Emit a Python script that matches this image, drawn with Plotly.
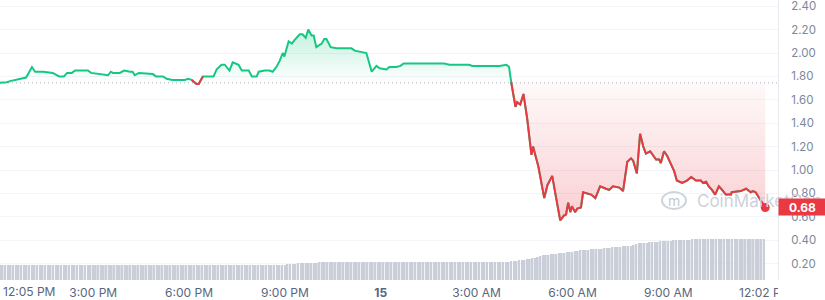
import numpy as np
import pandas as pd
import plotly.graph_objects as go

# ---- price data ----
times = [
    "2024-03-14 12:05", "2024-03-14 12:18", "2024-03-14 12:24", "2024-03-14 12:33", "2024-03-14 12:46",
    "2024-03-14 12:54", "2024-03-14 13:05", "2024-03-14 13:11", "2024-03-14 13:26", "2024-03-14 13:44",
    "2024-03-14 13:56", "2024-03-14 14:05", "2024-03-14 14:11", "2024-03-14 14:20", "2024-03-14 14:26",
    "2024-03-14 14:50", "2024-03-14 14:56", "2024-03-14 15:13", "2024-03-14 15:28", "2024-03-14 15:33",
    "2024-03-14 15:37", "2024-03-14 15:50", "2024-03-14 15:58", "2024-03-14 16:09", "2024-03-14 16:14",
    "2024-03-14 16:18", "2024-03-14 16:26", "2024-03-14 16:52", "2024-03-14 16:58", "2024-03-14 17:11",
    "2024-03-14 17:18", "2024-03-14 17:29", "2024-03-14 17:52", "2024-03-14 17:58", "2024-03-14 18:05",
    "2024-03-14 18:14", "2024-03-14 18:18", "2024-03-14 18:26", "2024-03-14 18:39", "2024-03-14 18:46",
    "2024-03-14 18:52", "2024-03-14 19:01", "2024-03-14 19:07", "2024-03-14 19:16", "2024-03-14 19:22",
    "2024-03-14 19:33", "2024-03-14 19:39", "2024-03-14 19:52", "2024-03-14 19:58", "2024-03-14 20:07",
    "2024-03-14 20:11", "2024-03-14 20:22", "2024-03-14 20:31", "2024-03-14 20:37", "2024-03-14 20:44",
    "2024-03-14 20:50", "2024-03-14 20:56", "2024-03-14 20:59", "2024-03-14 21:07", "2024-03-14 21:13",
    "2024-03-14 21:18", "2024-03-14 21:28", "2024-03-14 21:33", "2024-03-14 21:39", "2024-03-14 21:44",
    "2024-03-14 21:50", "2024-03-14 21:54", "2024-03-14 21:59", "2024-03-14 22:09", "2024-03-14 22:14",
    "2024-03-14 22:18", "2024-03-14 22:26", "2024-03-14 22:37", "2024-03-14 23:05", "2024-03-14 23:11",
    "2024-03-14 23:20", "2024-03-14 23:33", "2024-03-14 23:43", "2024-03-14 23:52", "2024-03-14 23:58",
    "2024-03-15 00:11", "2024-03-15 00:16", "2024-03-15 00:29", "2024-03-15 00:37", "2024-03-15 00:43",
    "2024-03-15 00:59", "2024-03-15 01:13", "2024-03-15 01:35", "2024-03-15 01:44", "2024-03-15 01:59",
    "2024-03-15 02:09", "2024-03-15 02:46", "2024-03-15 02:52", "2024-03-15 03:43", "2024-03-15 03:56",
    "2024-03-15 04:01", "2024-03-15 04:05", "2024-03-15 04:13", "2024-03-15 04:16", "2024-03-15 04:22",
    "2024-03-15 04:28", "2024-03-15 04:35", "2024-03-15 04:43", "2024-03-15 04:46", "2024-03-15 04:56",
    "2024-03-15 05:07", "2024-03-15 05:13", "2024-03-15 05:22", "2024-03-15 05:29", "2024-03-15 05:37",
    "2024-03-15 05:44", "2024-03-15 05:48", "2024-03-15 05:52", "2024-03-15 05:56", "2024-03-15 05:59",
    "2024-03-15 06:05", "2024-03-15 06:09", "2024-03-15 06:16", "2024-03-15 06:20", "2024-03-15 06:28",
    "2024-03-15 06:35", "2024-03-15 06:43", "2024-03-15 06:52", "2024-03-15 07:03", "2024-03-15 07:09",
    "2024-03-15 07:16", "2024-03-15 07:28", "2024-03-15 07:35", "2024-03-15 07:43", "2024-03-15 07:50",
    "2024-03-15 07:54", "2024-03-15 08:01", "2024-03-15 08:07", "2024-03-15 08:13", "2024-03-15 08:18",
    "2024-03-15 08:26", "2024-03-15 08:31", "2024-03-15 08:37", "2024-03-15 08:43", "2024-03-15 08:46",
    "2024-03-15 08:52", "2024-03-15 08:58", "2024-03-15 09:05", "2024-03-15 09:11", "2024-03-15 09:16",
    "2024-03-15 09:26", "2024-03-15 09:35", "2024-03-15 09:43", "2024-03-15 09:52", "2024-03-15 10:01",
    "2024-03-15 10:05", "2024-03-15 10:11", "2024-03-15 10:16", "2024-03-15 10:22", "2024-03-15 10:28",
    "2024-03-15 10:35", "2024-03-15 10:41", "2024-03-15 10:48", "2024-03-15 10:58", "2024-03-15 10:59",
    "2024-03-15 11:16", "2024-03-15 11:26", "2024-03-15 11:35", "2024-03-15 11:39", "2024-03-15 11:44",
    "2024-03-15 11:55", "2024-03-15 12:02",
]
prices = [
    1.745, 1.75, 1.76, 1.77, 1.78,
    1.79, 1.88, 1.84, 1.84, 1.83,
    1.80, 1.80, 1.83, 1.83, 1.85,
    1.85, 1.83, 1.82, 1.81, 1.84,
    1.83, 1.83, 1.85, 1.84, 1.84,
    1.81, 1.83, 1.82, 1.80, 1.80,
    1.78, 1.77, 1.77, 1.78, 1.77,
    1.735, 1.735, 1.80, 1.80, 1.80,
    1.86, 1.90, 1.90, 1.85, 1.92,
    1.90, 1.85, 1.85, 1.80, 1.80,
    1.84, 1.85, 1.85, 1.84, 1.88,
    1.93, 2.00, 1.97, 2.10, 2.08,
    2.11, 2.16, 2.16, 2.13, 2.20,
    2.15, 2.15, 2.05, 2.08, 2.12,
    2.12, 2.05, 2.04, 2.04, 2.02,
    2.01, 2.00, 1.84, 1.89, 1.87,
    1.86, 1.88, 1.88, 1.89, 1.91,
    1.91, 1.91, 1.91, 1.905, 1.91,
    1.90, 1.90, 1.89, 1.89, 1.90,
    1.88, 1.75, 1.54, 1.58, 1.56,
    1.65, 1.44, 1.13, 1.20, 1.03,
    0.76, 0.87, 0.95, 0.77, 0.57,
    0.61, 0.62, 0.72, 0.64, 0.69,
    0.64, 0.67, 0.68, 0.81, 0.80,
    0.79, 0.76, 0.86, 0.84, 0.83,
    0.86, 0.85, 0.82, 1.07, 1.10,
    1.08, 0.97, 1.31, 1.20, 1.14,
    1.16, 1.13, 1.09, 1.09, 1.06,
    1.16, 1.12, 1.05, 0.99, 0.91,
    0.89, 0.91, 0.94, 0.91, 0.91,
    0.89, 0.90, 0.86, 0.83, 0.79,
    0.86, 0.83, 0.79, 0.79, 0.81,
    0.82, 0.84, 0.81, 0.82, 0.81,
    0.73, 0.68,
]

# ---- volume (5-minute bars, relative units) ----
volume_start = "2024-03-14 12:05"
volume = [
    15, 15, 15, 15, 15, 15, 15, 15, 15, 15, 15, 15,
    15, 15, 15, 15, 15, 15, 15, 15, 15, 15, 15, 15,
    15, 15, 15, 15, 15, 15, 15, 15, 15, 15, 15, 15,
    15, 15, 15, 15, 15, 15, 15, 15, 15, 15, 15, 15,
    15, 15, 15, 15, 15, 15, 15, 15, 15, 15, 15, 15,
    15, 15, 15, 15, 15, 15, 15, 15, 15, 15, 15, 15,
    15, 15, 15, 15, 15, 15, 15, 15, 15, 15, 15, 15,
    15, 15, 15, 15, 15, 15, 15, 15, 15, 15, 15, 15,
    15, 15, 15, 15, 15, 15, 15, 15, 15, 15, 15, 15,
    16, 16, 16, 16, 17, 17, 17, 17, 17, 17, 17, 17,
    18, 18, 18, 18, 18, 18, 18, 18, 18, 18, 18, 18,
    18, 18, 18, 18, 18, 18, 18, 18, 18, 18, 18, 18,
    18, 18, 18, 18, 18, 18, 18, 18, 18, 18, 18, 18,
    18, 18, 18, 18, 18, 18, 18, 18, 18, 18, 18, 18,
    18, 18, 18, 18, 18, 18, 18, 18, 18, 18, 18, 18,
    18, 18, 18, 18, 18, 18, 18, 18, 18, 18, 18, 18,
    19, 19, 19, 20, 20, 20, 21, 21, 22, 22, 23, 24,
    25, 25, 25, 26, 26, 26, 27, 27, 27, 28, 28, 28,
    29, 29, 30, 30, 30, 30, 31, 31, 31, 31, 31, 32,
    32, 32, 33, 33, 33, 33, 34, 34, 34, 34, 35, 36,
    37, 37, 37, 37, 38, 38, 38, 38, 39, 39, 39, 39,
    39, 40, 40, 40, 40, 40, 40, 40, 41, 41, 41, 41,
    41, 41, 41, 41, 41, 41, 41, 41, 41, 41, 41, 41,
    41, 41, 41, 41, 41, 41, 41, 41, 41, 41, 41, 41,
]

x_ticks = ["2024-03-14 15:00", "2024-03-14 18:00", "2024-03-14 21:00", "2024-03-15 00:00",
           "2024-03-15 03:00", "2024-03-15 06:00", "2024-03-15 09:00", "2024-03-15 12:02"]
x_ticktext = ["3:00 PM", "6:00 PM", "9:00 PM", "<b>15</b>", "3:00 AM", "6:00 AM", "9:00 AM", "12:02 PM"]
first_label = "12:05 PM"
x_range = ["2024-03-14 12:05", "2024-03-15 12:26"]
y_range = [0.06, 2.453]

GREEN = "#16c784"
RED = "#ea3943"
FONT = "Inter"

t = pd.to_datetime(times)
p = np.array(prices)
base = p[0]
below = p < base
red_mask = below | np.roll(below, 1) | np.roll(below, -1)
red_mask[0] = below[0] or below[1]
red_mask[-1] = below[-1] or below[-2]
red_line = [v if m else None for v, m in zip(p, red_mask)]
green_fill = np.maximum(p, base)
red_fill = np.minimum(p, base)
vol_t = pd.date_range(volume_start, periods=len(volume), freq="5min")

fig = go.Figure()
# volume
fig.add_trace(go.Bar(x=vol_t, y=volume, yaxis="y2", marker=dict(color="#c9ced8", line=dict(width=0)),
                     hoverinfo="skip", showlegend=False))
# green fill
fig.add_trace(go.Scatter(x=t, y=[base] * len(p), mode="lines", line=dict(width=0),
                         hoverinfo="skip", showlegend=False))
fig.add_trace(go.Scatter(x=t, y=green_fill, mode="lines", line=dict(width=0), fill="tonexty",
                         fillgradient=dict(type="vertical",
                                           colorscale=[[0, "rgba(22,199,132,0.0)"], [1, "rgba(22,199,132,0.26)"]]),
                         hoverinfo="skip", showlegend=False))
# red fill
fig.add_trace(go.Scatter(x=t, y=[base] * len(p), mode="lines", line=dict(width=0),
                         hoverinfo="skip", showlegend=False))
fig.add_trace(go.Scatter(x=t, y=red_fill, mode="lines", line=dict(width=0), fill="tonexty",
                         fillgradient=dict(type="vertical",
                                           colorscale=[[0, "rgba(234,57,67,0.24)"], [1, "rgba(234,57,67,0.03)"]]),
                         hoverinfo="skip", showlegend=False))
# lines
fig.add_trace(go.Scatter(x=t, y=p, mode="lines", line=dict(color=GREEN, width=2), showlegend=False))
fig.add_trace(go.Scatter(x=t, y=red_line, mode="lines", line=dict(color=RED, width=2),
                         connectgaps=False, showlegend=False))
# end dot
fig.add_trace(go.Scatter(x=[t[-1]], y=[p[-1]], mode="markers", marker=dict(color=RED, size=9),
                         showlegend=False))

fig.update_layout(
    width=825, height=300,
    margin=dict(l=0, r=47, t=0, b=20),
    paper_bgcolor="white", plot_bgcolor="white",
    font=dict(family=FONT, size=12, color="#616e85"),
    bargap=0.35,
    xaxis=dict(type="date", range=x_range, tickvals=x_ticks, ticktext=x_ticktext,
               showgrid=False, zeroline=False, showline=False, ticks="",
               tickfont=dict(size=12, color="#58667e"), ticklabelstandoff=4),
    yaxis=dict(range=y_range, side="right", dtick=0.2, tick0=0, tickformat=".2f",
               showgrid=True, gridcolor="#f2f4f7", zeroline=False,
               showline=True, linecolor="#e6e9ee", linewidth=1, ticks="",
               ticklabeloverflow="allow",
               tickfont=dict(size=11.5, color="#7d879a"), ticklabelstandoff=10),
    yaxis2=dict(range=[0, 280], overlaying="y", visible=False),
    shapes=[
        dict(type="line", xref="paper", x0=0, x1=1, yref="y", y0=base, y1=base,
             line=dict(color="#a7aebb", width=1, dash="1px,3px"), layer="below"),
        # mask that clips the last time label at the axis edge
        dict(type="rect", xref="paper", x0=1.0, x1=1.2, yref="paper", y0=-0.09, y1=-0.004,
             fillcolor="white", line=dict(width=0), layer="above"),
        # watermark logo ring
        dict(type="circle", xref="paper", yref="paper",
             x0=662 / 778, x1=686 / 778, y0=(280 - 209) / 280, y1=(280 - 192) / 280,
             line=dict(color="#cfd4dc", width=2), layer="above"),
    ],
    annotations=[
        dict(x=x_range[0], xref="x", y=0, yref="paper", text=first_label, showarrow=False,
             xanchor="left", yanchor="middle", yshift=-11, xshift=1,
             font=dict(family=FONT, size=12, color="#58667e")),
        dict(x=674 / 778, xref="paper", y=(280 - 200.5) / 280, yref="paper", text="m", showarrow=False,
             font=dict(family=FONT, size=14, color="#c3c9d3"), xanchor="center", yanchor="middle"),
        dict(x=695 / 778, xref="paper", y=(280 - 201) / 280, yref="paper", text="CoinMarketCap",
             showarrow=False, xanchor="left", yanchor="middle",
             font=dict(family=FONT, size=17, color="#cdd2da")),
        dict(x=1, xref="paper", y=p[-1], yref="y", text="<b>%.2f</b>" % p[-1], showarrow=False,
             xanchor="left", yanchor="middle", bgcolor=RED, width=45, height=14, borderpad=1,
             align="center", font=dict(family=FONT, size=12, color="white")),
    ],
)

fig.write_html("out.html")
